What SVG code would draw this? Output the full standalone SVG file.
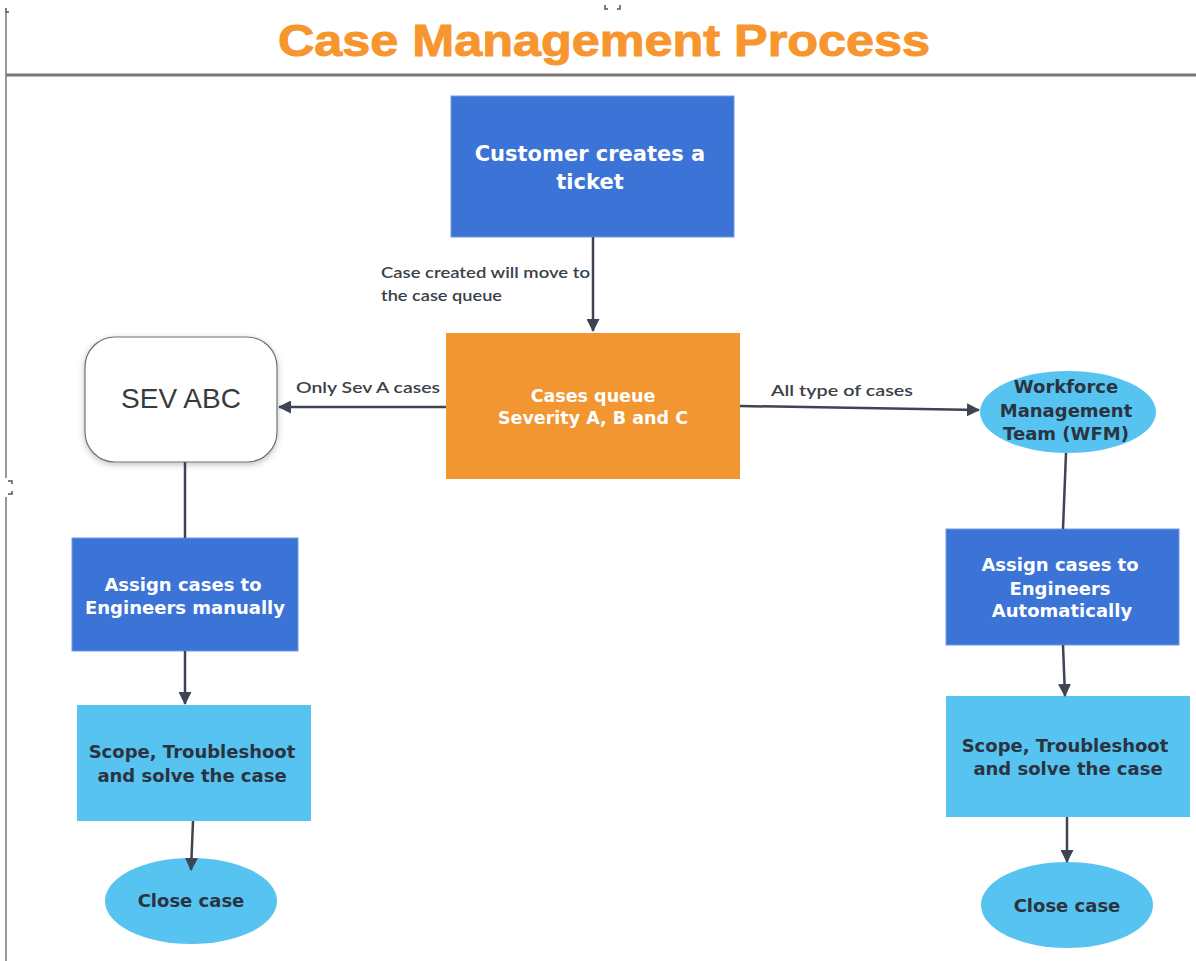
<svg xmlns="http://www.w3.org/2000/svg" width="1196" height="961" viewBox="0 0 1196 961">
<defs>
<marker id="arr" markerWidth="13" markerHeight="13" refX="12" refY="6.5" orient="auto" markerUnits="userSpaceOnUse" viewBox="0 0 13 13">
<path d="M0,0 L13,6.5 L0,13 Z" fill="#3d4452"/>
</marker>
<filter id="sh" x="-20%" y="-20%" width="140%" height="140%">
<feDropShadow dx="0" dy="2" stdDeviation="3" flood-color="#000" flood-opacity="0.25"/>
</filter>
</defs>
<style>
.lbl{font-family:"DejaVu Sans","Open Sans",sans-serif;font-weight:700;text-anchor:middle}
.w{fill:#ffffff}
.d{fill:#2b3340}
.el{font-family:Lato,"Liberation Sans",sans-serif;font-size:16px;fill:#3a3f48;font-weight:600}
.cn{stroke:#3d4452;stroke-width:2.5;fill:none}
</style>
<rect width="1196" height="961" fill="#ffffff"/>
<g id="frame">
<line x1="6" y1="12" x2="6" y2="478" stroke="#777" stroke-width="1.5"/>
<line x1="6" y1="497" x2="6" y2="961" stroke="#777" stroke-width="1.5"/>
<path d="M8,481 h4 v3 M8,494 h4 v-3" stroke="#555" stroke-width="1.5" fill="none"/>
<path d="M6,8 v4 h3" stroke="#555" stroke-width="1.5" fill="none"/>
<path d="M605,5 v4 h3 M620,5 v4 h-3" stroke="#555" stroke-width="1.5" fill="none"/>
<line x1="6" y1="75" x2="1196" y2="75" stroke="#777" stroke-width="3"/>
</g>
<text x="604" y="56" font-family="'Liberation Sans',Arial,sans-serif" font-weight="900" font-size="45" fill="#f7952e" stroke="#f7952e" stroke-width="1" text-anchor="middle" textLength="652" lengthAdjust="spacingAndGlyphs">Case Management Process</text>
<g id="n-customer">
<rect x="451" y="96" width="283" height="141" fill="#3b73d6" stroke="#6f9be6" stroke-width="1"/>
<text class="lbl w" x="590" y="161" font-size="21">Customer creates a</text>
<text class="lbl w" x="590" y="189" font-size="21">ticket</text>
</g>
<g id="n-queue">
<rect x="446" y="333" width="294" height="146" fill="#f29632"/>
<text class="lbl w" x="593" y="402" font-size="17.5">Cases queue</text>
<text class="lbl w" x="593" y="424" font-size="17.5">Severity A, B and C</text>
</g>
<g id="n-sev">
<rect x="85" y="337" width="192" height="125" rx="30" ry="30" fill="#ffffff" stroke="#707070" stroke-width="1.2" filter="url(#sh)"/>
<text x="181" y="408" font-family="'Liberation Sans',Arial,sans-serif" font-size="28" fill="#3a3a3a" text-anchor="middle">SEV ABC</text>
</g>
<g id="n-wfm">
<ellipse cx="1068" cy="412" rx="88" ry="41" fill="#56c3f1"/>
<text class="lbl d" x="1066" y="393" font-size="18">Workforce</text>
<text class="lbl d" x="1066" y="417" font-size="18">Management</text>
<text class="lbl d" x="1066" y="440" font-size="18">Team (WFM)</text>
</g>
<g id="n-assign-manual">
<rect x="72" y="538" width="226" height="113" fill="#3b73d6" stroke="#6f9be6" stroke-width="1"/>
<text class="lbl w" x="183" y="591" font-size="18">Assign cases to</text>
<text class="lbl w" x="185" y="614" font-size="18">Engineers manually</text>
</g>
<g id="n-scope-left">
<rect x="77" y="705" width="234" height="116" fill="#56c3f1"/>
<text class="lbl d" x="192" y="758" font-size="18">Scope, Troubleshoot</text>
<text class="lbl d" x="192" y="782" font-size="18">and solve the case</text>
</g>
<g id="n-close-left">
<ellipse cx="191" cy="901" rx="86" ry="43" fill="#56c3f1"/>
<text class="lbl d" x="191" y="907" font-size="18">Close case</text>
</g>
<g id="n-assign-auto">
<rect x="946" y="529" width="233" height="116" fill="#3b73d6" stroke="#6f9be6" stroke-width="1"/>
<text class="lbl w" x="1060" y="571" font-size="18">Assign cases to</text>
<text class="lbl w" x="1060" y="595" font-size="18">Engineers</text>
<text class="lbl w" x="1062" y="617" font-size="18">Automatically</text>
</g>
<g id="n-scope-right">
<rect x="946" y="696" width="244" height="121" fill="#56c3f1"/>
<text class="lbl d" x="1065" y="752" font-size="18">Scope, Troubleshoot</text>
<text class="lbl d" x="1068" y="775" font-size="18">and solve the case</text>
</g>
<g id="n-close-right">
<ellipse cx="1067" cy="905" rx="86" ry="43" fill="#56c3f1"/>
<text class="lbl d" x="1067" y="912" font-size="18">Close case</text>
</g>
<g id="connectors">
<line class="cn" x1="593" y1="237" x2="593" y2="331" marker-end="url(#arr)"/>
<line class="cn" x1="446" y1="407" x2="279" y2="407" marker-end="url(#arr)"/>
<line class="cn" x1="740" y1="406" x2="979" y2="410" marker-end="url(#arr)"/>
<line class="cn" x1="185" y1="462" x2="185" y2="538"/>
<line class="cn" x1="185" y1="651" x2="185" y2="704" marker-end="url(#arr)"/>
<line class="cn" x1="193" y1="821" x2="191" y2="870" marker-end="url(#arr)"/>
<line class="cn" x1="1066" y1="453" x2="1063" y2="529"/>
<line class="cn" x1="1063" y1="645" x2="1065" y2="696" marker-end="url(#arr)"/>
<line class="cn" x1="1067" y1="817" x2="1067" y2="862" marker-end="url(#arr)"/>
<text class="el" x="381" y="278" textLength="209" lengthAdjust="spacingAndGlyphs">Case created will move to</text>
<text class="el" x="381" y="301" textLength="121" lengthAdjust="spacingAndGlyphs">the case queue</text>
<text class="el" x="296" y="393" textLength="144" lengthAdjust="spacingAndGlyphs">Only Sev A cases</text>
<text class="el" x="771" y="396" textLength="142" lengthAdjust="spacingAndGlyphs">All type of cases</text>
</g>
</svg>
